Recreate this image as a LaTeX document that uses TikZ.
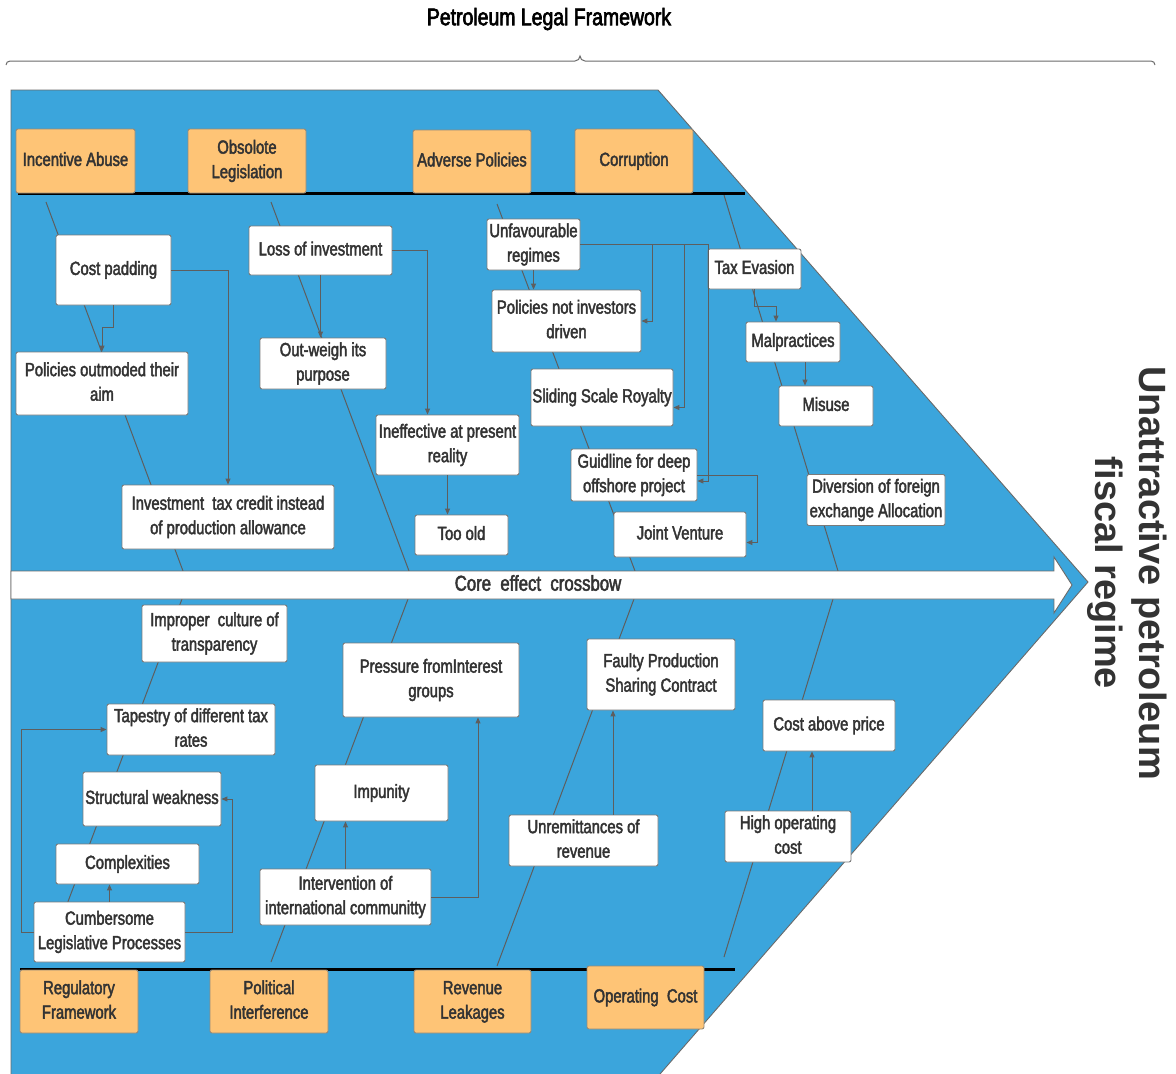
\documentclass[tikz,border=0pt]{standalone}
\usepackage{fontspec}
\setmainfont{Liberation Sans}[FakeStretch=0.78, FakeBold=2.2]
\newfontfamily\titlefont{Liberation Sans}[FakeStretch=0.81, FakeBold=2.6]
\newfontfamily\sidefont{Liberation Sans}
\usetikzlibrary{arrows.meta,calc}

\definecolor{fishblue}{RGB}{59,165,220}
\definecolor{cause}{RGB}{254,196,118}
\definecolor{ink}{HTML}{333333}
\definecolor{wire}{HTML}{5E5E5E}
\definecolor{boxline}{HTML}{7A7A7A}
\definecolor{edgeline}{HTML}{6A6A6A}

\tikzset{
  every node/.style={font=\fontsize{19}{24.5}\selectfont, text=ink},
  wbox/.style={draw=boxline, fill=white, rounded corners=2pt, align=center,
               inner sep=1pt, line width=0.9pt},
  obox/.style={wbox, fill=cause, draw=boxline!80!cause},
  bone/.style={draw=wire, line width=1pt},
  conn/.style={draw=wire, line width=1pt, -{Triangle[length=6pt,width=5pt]}},
  spine/.style={draw=black, line width=3pt},
}

% box from its corner coordinates: name, x1, y1, x2, y2, text
\newcommand\bx[7][wbox]{%
  \node[#1, minimum width={#5-#3}, minimum height={#6-#4}] (#2)
    at ({(#3+#5)/2},{(#4+#6)/2}) {\raisebox{2pt}{\begin{tabular}{@{}c@{}}#7\end{tabular}}};}

\begin{document}
\begin{tikzpicture}[x=1pt,y=-1pt]
\useasboundingbox (0,0) rectangle (1176,1074);

% title and brace
\node[font=\titlefont\fontsize{24}{28}\selectfont, text=black] (title) at (549,19) {Petroleum Legal Framework};
\draw[edgeline, line width=1pt]
  (6,65) to[out=90,in=180] (10,61) -- (575,61) to[out=0,in=-90] (580,56)
  to[out=-90,in=180] (585,61) -- (1151,61) to[out=0,in=90] (1155,65);

% fish body
\fill[fishblue] (11,90) -- (658,90) -- (1088,582) -- (660,1074) -- (11,1074) -- cycle;
\draw[edgeline, line width=0.9pt] (11,1074) -- (11,90) -- (658,90) -- (1088,582) -- (660,1074);

% effect label
\node[font=\sidefont\bfseries\fontsize{38}{44}\selectfont, rotate=-90, align=center] (effect)
  at (1127,573) {Unattractive petroleum\\fiscal regime};

% bones
\coordinate (a1) at (46,202);   \coordinate (a2) at (183,571);
\coordinate (b1) at (271,202);  \coordinate (b2) at (409,571);
\coordinate (c1) at (497,204);  \coordinate (c2) at (635,571);
\coordinate (d1) at (724,195);  \coordinate (d2) at (838,571);
\coordinate (e1) at (182,599);  \coordinate (e2) at (46,960);
\coordinate (f1) at (408,599);  \coordinate (f2) at (271,962);
\coordinate (g1) at (634,599);  \coordinate (g2) at (497,966);
\coordinate (h1) at (833,599);  \coordinate (h2) at (724,957);
\foreach \s/\e in {a1/a2,b1/b2,c1/c2,d1/d2,e1/e2,f1/f2,g1/g2,h1/h2}
  \draw[bone] (\s) -- (\e);

% spines
\coordinate (ts1) at (18,193);  \coordinate (ts2) at (745,193);
\coordinate (bs1) at (20,969);  \coordinate (bs2) at (735,969);
\draw[spine] (ts1) -- (ts2);
\draw[spine] (bs1) -- (bs2);

% central arrow
\draw[fill=white, draw=edgeline, line width=0.9pt]
  (11,571) -- (1054,571) -- (1054,557) -- (1072,585) -- (1054,613) -- (1054,599) -- (11,599) -- cycle;
\node[font=\fontsize{21.5}{24}\selectfont] (core) at (538,583) {Core\ \ effect\ \ crossbow};

% cause categories
\bx[obox]{ia}{16}{129}{135}{193}{Incentive Abuse}
\bx[obox]{ol}{188}{129}{306}{193}{Obsolote\\Legislation}
\bx[obox]{ap}{413}{130}{531}{193}{Adverse Policies}
\bx[obox]{co}{575}{129}{693}{193}{Corruption}
\bx[obox]{rf}{20}{970}{138}{1033}{Regulatory\\Framework}
\bx[obox]{pi}{210}{970}{328}{1033}{Political\\Interference}
\bx[obox]{rl}{414}{970}{531}{1033}{Revenue\\Leakages}
\bx[obox]{oc}{587}{966}{704}{1029}{Operating\ \ Cost}

% upper causes
\bx{cp}{56}{235}{171}{305}{Cost padding}
\bx{loss}{249}{226}{392}{275}{Loss of investment}
\bx{pom}{16}{352}{188}{415}{Policies outmoded their\\aim}
\bx{ow}{260}{338}{386}{389}{Out-weigh its\\purpose}
\bx{inv}{122}{485}{334}{549}{Investment\ \ tax credit instead\\of production allowance}
\bx{inef}{376}{415}{519}{475}{Ineffective at present\\reality}
\bx{old}{415}{515}{508}{555}{Too old}
\bx{unf}{487}{219}{580}{270}{Unfavourable\\regimes}
\bx{pnid}{492}{290}{641}{352}{Policies not investors\\driven}
\bx{ssr}{531}{369}{673}{426}{Sliding Scale Royalty}
\bx{gdo}{571}{449}{697}{501}{Guidline for deep\\offshore project}
\bx{jv}{614}{512}{746}{557}{Joint Venture}
\bx{tax}{708}{249}{801}{289}{Tax Evasion}
\bx{mal}{746}{322}{840}{362}{Malpractices}
\bx{mis}{779}{386}{873}{426}{Misuse}
\bx{dfx}{807}{475}{945}{525}{Diversion of foreign\\exchange Allocation}

% lower causes
\bx{ict}{142}{605}{287}{662}{Improper\ \ culture of\\transparency}
\bx{prs}{343}{643}{519}{717}{Pressure fromInterest\\groups}
\bx{fpsc}{587}{639}{735}{710}{Faulty Production\\Sharing Contract}
\bx{tap}{107}{704}{275}{755}{Tapestry of different tax\\rates}
\bx{sw}{83}{772}{221}{826}{Structural weakness}
\bx{cx}{56}{844}{199}{884}{Complexities}
\bx{cum}{34}{902}{185}{962}{Cumbersome\\Legislative Processes}
\bx{imp}{315}{765}{448}{821}{Impunity}
\bx{int}{260}{869}{431}{925}{Intervention of\\international communitty}
\bx{ur}{509}{815}{658}{866}{Unremittances of\\revenue}
\bx{cap}{763}{700}{895}{751}{Cost above price}
\bx{hoc}{725}{812}{851}{861}{High operating\\cost}

% links between causes (upper)
\draw[conn] (cp.east) -| (inv.north);
\draw[conn] (cp.south) -- ++(0,22) -| (pom.north);
\draw[conn] (loss.south) -- (loss.south |- ow.north);
\draw[conn] (loss.east) -| ($(inef.north)+(-20,0)$);
\draw[conn] (inef.south) -- (inef.south |- old.north);
\draw[conn] (unf.south) -- (unf.south |- pnid.north);
\draw[conn] (unf.east) -| ($(pnid.east)+(11,0)$) -- (pnid.east);
\draw[conn] (unf.east) -| ($(ssr.east)+(11,10)$) -- ($(ssr.east)+(0,10)$);
\draw[conn] (unf.east) -| ($(gdo.east)+(11,6)$) -- ($(gdo.east)+(0,6)$);
\draw[conn] (gdo.east) -| ($(jv.east)+(11,8)$) -- ($(jv.east)+(0,8)$);
\draw[conn] (tax.south) -- ++(0,17) -| ($(mal.north)+(-17,0)$);
\coordinate (m1) at ($(mal.south)+(12,0)$);
\draw[conn] (m1) -- (m1 |- mis.north);

% links between causes (lower)
\draw[conn] (cum.west) -- ++(-12,0) |- (tap.west);
\draw[conn] (cum.east) -- ++(47,0) |- (sw.east);
\draw[conn] (cum.north) -- (cum.north |- cx.south);
\draw[conn] (int.north) -- (int.north |- imp.south);
\draw[conn] (int.east) -| ($(prs.south)+(47,0)$);
\coordinate (u1) at ($(ur.north)+(29.5,0)$);
\draw[conn] (u1) -- (u1 |- fpsc.south);
\coordinate (k1) at ($(hoc.north)+(24,0)$);
\draw[conn] (k1) -- (k1 |- cap.south);

\end{tikzpicture}
\end{document}
